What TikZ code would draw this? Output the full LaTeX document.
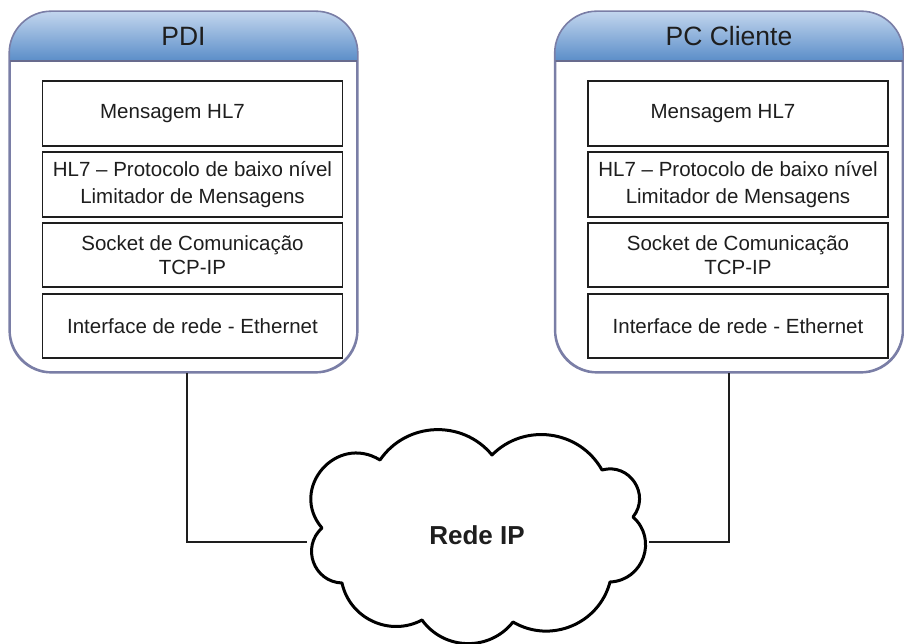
\documentclass[tikz,border=0pt]{standalone}
\usepackage{fontspec}
\setmainfont{Liberation Sans}
\usetikzlibrary{calc}

\definecolor{frameblue}{HTML}{7A7EA6}
\definecolor{headtop}{HTML}{C3D6EE}
\definecolor{headbot}{HTML}{5A8DC8}
\definecolor{inkdark}{HTML}{1E1E1E}

\tikzset{
  container/.style={draw=frameblue, line width=1.6pt, fill=white,
    rounded corners=42pt, minimum width=#1, minimum height=360pt,
    inner sep=0pt},
  headertext/.style={font=\fontsize{26.5}{29}\selectfont, text=inkdark},
  layerbox/.style={draw=inkdark, line width=1.4pt, fill=white,
    minimum width=300pt, minimum height=65pt, inner sep=0pt,
    align=center, text=inkdark},
  layertext/.style={font=\fontsize{20.5}{#1}\selectfont},
  wire/.style={draw=inkdark, line width=1.8pt},
  cloudline/.style={draw=black, line width=3pt, fill=white, line join=round},
  cloudtext/.style={font=\fontsize{26}{29}\selectfont\bfseries, text=inkdark}
}

\begin{document}
\begin{tikzpicture}[x=1pt, y=1pt]
\useasboundingbox (0,0) rectangle (904,644);

% ---- two protocol stacks ----
\foreach \nm/\cx/\ttl in {pdi/183.5/PDI, pc/729/PC Cliente} {
  \node[container=347pt] (\nm) at (\cx,452) {};
  \begin{scope}
    \clip[rounded corners=42pt] (\nm.south west) rectangle (\nm.north east);
    \shade[top color=headtop, bottom color=headbot]
      (\nm.north west) rectangle ([yshift=-50pt]\nm.north east);
  \end{scope}
  \draw[frameblue!85!black, line width=1.4pt]
    ([yshift=-50pt]\nm.north west) -- ([yshift=-50pt]\nm.north east);
  \draw[frameblue, line width=1.6pt, rounded corners=42pt]
    (\nm.south west) rectangle (\nm.north east);
  \node[headertext] (\nm-title) at ([yshift=-25pt]\nm.north) {\ttl};
}

% layer boxes of the PDI stack
\node[layerbox, layertext=24pt] (pdi-l1) at (192.5,530.5) {Mensagem HL7\hspace{40pt}};
\node[layerbox, layertext=27pt] (pdi-l2) at (192.5,459.5)
  {HL7 – Protocolo de baixo nível\\Limitador de Mensagens};
\node[layerbox, layertext=24pt, minimum height=64pt] (pdi-l3) at (192.5,389)
  {Socket de Comunicação\\TCP-IP};
\node[layerbox, layertext=24pt, minimum height=64pt] (pdi-l4) at (192.5,318)
  {Interface de rede - Ethernet};

% layer boxes of the client stack
\node[layerbox, layertext=24pt] (pc-l1) at (738,530.5) {Mensagem HL7\hspace{30pt}};
\node[layerbox, layertext=27pt] (pc-l2) at (738,459.5)
  {HL7 – Protocolo de baixo nível\\Limitador de Mensagens};
\node[layerbox, layertext=24pt, minimum height=64pt] (pc-l3) at (738,389)
  {Socket de Comunicação\\TCP-IP};
\node[layerbox, layertext=24pt, minimum height=64pt] (pc-l4) at (738,318)
  {Interface de rede - Ethernet};

% ---- IP network cloud ----
\coordinate (c1) at (322,116);
\coordinate (c2) at (380,184);
\coordinate (c3) at (492,189);
\coordinate (c4) at (602,174);
\coordinate (c5) at (633,127);
\coordinate (c6) at (610,62);
\coordinate (c7) at (513,22);
\coordinate (c8) at (422,24);
\coordinate (c9) at (342,61);
\coordinate (cloudL) at (307,102);
\coordinate (cloudR) at (649,102);

% links from each stack down to the cloud
\draw[wire] ([xshift=3.5pt]pdi.south) |- (cloudL);
\draw[wire] (pc.south) |- (cloudR);

\draw[cloudline]
  (c1) to[bend left=81, looseness=1.47] (c2)
       to[bend left=53, looseness=1.06] (c3)
       to[bend left=53, looseness=1.06] (c4)
       to[bend left=72, looseness=1.30] (c5)
       to[bend left=68, looseness=1.24] (c6)
       to[bend left=53, looseness=1.06] (c7)
       to[bend left=53, looseness=1.06] (c8)
       to[bend left=53, looseness=1.06] (c9)
       to[bend left=68, looseness=1.24] (c1) -- cycle;
\node[cloudtext] (net) at (477,109) {Rede IP};
\end{tikzpicture}
\end{document}
